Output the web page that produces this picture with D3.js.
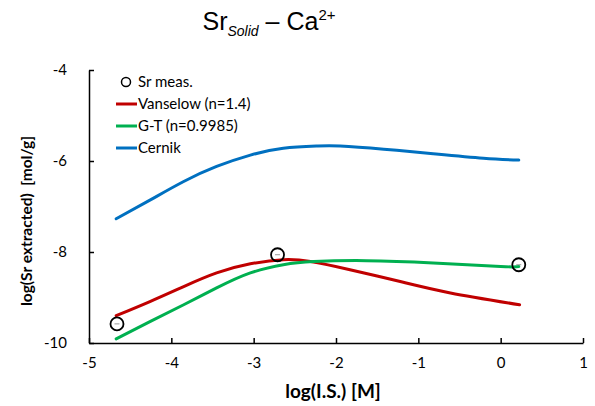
<!DOCTYPE html>
<html>
<head>
<meta charset="utf-8">
<script src="https://cdn.jsdelivr.net/npm/d3@7"></script>
<style>
  body { margin: 0; background: #fff; overflow: hidden; }
  svg { display: block; }
</style>
</head>
<body>
<svg id="chart"></svg>
<script>
const w = 595;
const h = 406;

// measured points
const measX = [-4.66, -2.71, 0.22];
const measY = [-9.58, -8.06, -8.28];

// model curves
const vanselowX = [-4.67, -4.26, -3.85, -3.45, -3.04, -2.64, -2.31, -1.83, -1.22, -0.61, 0.23];
const vanselowY = [-9.40, -9.09, -8.76, -8.46, -8.26, -8.17, -8.21, -8.39, -8.65, -8.90, -9.16];
const gtX = [-4.67, -4.26, -3.85, -3.45, -3.04, -2.64, -2.27, -1.63, -0.82, 0.0, 0.22];
const gtY = [-9.91, -9.53, -9.16, -8.79, -8.46, -8.28, -8.21, -8.19, -8.24, -8.32, -8.32];
const cernikX = [-4.67, -4.26, -3.85, -3.45, -3.04, -2.64, -2.23, -1.95, -1.42, -0.82, -0.21, 0.22];
const cernikY = [-7.27, -6.86, -6.45, -6.12, -5.87, -5.72, -5.67, -5.67, -5.74, -5.84, -5.94, -5.98];

const xTicks = [-5, -4, -3, -2, -1, 0, 1];
const yTicks = [-10, -8, -6, -4];

const series = [
  {name: 'Vanselow (n=1.4)', xs: vanselowX, ys: vanselowY, color: '#C00000'},
  {name: 'G-T (n=0.9985)', xs: gtX, ys: gtY, color: '#00B050'},
  {name: 'Cernik', xs: cernikX, ys: cernikY, color: '#0070C0'}
];

const margin = {top: 70, right: 12, bottom: 63, left: 89};
const innerWidth = w - margin.left - margin.right;
const innerHeight = h - margin.top - margin.bottom;

const svg = d3.select('#chart')
    .attr('width', w)
    .attr('height', h)
    .attr('font-family', 'Lato, sans-serif');

const g = svg.append('g')
    .attr('transform', `translate(${margin.left}, ${margin.top})`);

const xScale = d3.scaleLinear().domain([-5, 1]).range([0, innerWidth]);
const yScale = d3.scaleLinear().domain([-10, -4]).range([innerHeight, 0]);

const fmt = d => String(d);

// axes, ticks pointing inward
const xAxisG = g.append('g')
    .attr('transform', `translate(0,${innerHeight})`)
    .call(d3.axisBottom(xScale).tickValues(xTicks).tickFormat(fmt).tickSizeInner(-5).tickSizeOuter(0).tickPadding(14));
const yAxisG = g.append('g')
    .call(d3.axisLeft(yScale).tickValues(yTicks).tickFormat(fmt).tickSizeInner(-5).tickSizeOuter(0).tickPadding(22));

[xAxisG, yAxisG].forEach(a => {
  a.attr('font-family', 'Lato, sans-serif').attr('font-size', 15);
  a.select('.domain').attr('stroke', '#000').attr('stroke-width', 1.5);
  a.selectAll('.tick line').attr('stroke', '#000').attr('stroke-width', 1.5);
  a.selectAll('.tick text').attr('fill', '#000');
});

// axis titles
svg.append('text')
    .attr('x', margin.left + innerWidth / 2 - 3)
    .attr('y', 398)
    .attr('text-anchor', 'middle')
    .attr('font-size', 19)
    .attr('font-weight', 'bold')
    .text('log(I.S.) [M]');

svg.append('text')
    .attr('transform', 'translate(32,221) rotate(-90)')
    .attr('text-anchor', 'middle')
    .attr('font-size', 15.5)
    .attr('font-weight', 'bold')
    .text('log(Sr extracted)\u00a0\u00a0[mol/g]');

// title
const title = svg.append('text')
    .attr('x', 269)
    .attr('y', 30)
    .attr('text-anchor', 'middle')
    .attr('font-family', '"Liberation Sans", Arial, sans-serif')
    .attr('font-size', 25);
title.append('tspan').text('Sr');
title.append('tspan').attr('dy', 6).attr('font-size', 14).attr('font-style', 'italic').text('Solid');
title.append('tspan').attr('dy', -6).text(' \u2013 Ca');
title.append('tspan').attr('dy', -10).attr('font-size', 15).text('2+');

// curves
const line = d3.line()
    .x(d => xScale(d[0]))
    .y(d => yScale(d[1]))
    .curve(d3.curveNatural);

series.forEach(s => {
  g.append('path')
      .datum(s.xs.map((x, i) => [x, s.ys[i]]))
      .attr('d', line)
      .attr('fill', 'none')
      .attr('stroke', s.color)
      .attr('stroke-width', 3)
      .attr('stroke-linecap', 'round');
});

// measured points
const meas = measX.map((x, i) => [x, measY[i]]);
g.selectAll('.err').data(meas)
  .enter().append('line')
    .attr('class', 'err')
    .attr('x1', d => xScale(d[0]) - 2.5)
    .attr('x2', d => xScale(d[0]) + 2.5)
    .attr('y1', d => yScale(d[1]))
    .attr('y2', d => yScale(d[1]))
    .attr('stroke', '#999')
    .attr('stroke-width', 1);
g.selectAll('.point').data(meas)
  .enter().append('circle')
    .attr('class', 'point')
    .attr('cx', d => xScale(d[0]))
    .attr('cy', d => yScale(d[1]))
    .attr('r', 6.5)
    .attr('fill', 'none')
    .attr('stroke', '#000')
    .attr('stroke-width', 1.8);

// legend
const lg = svg.append('g').attr('transform', 'translate(116, 82)');
lg.append('circle')
    .attr('cx', 10).attr('cy', 0).attr('r', 4.5)
    .attr('fill', 'none').attr('stroke', '#000').attr('stroke-width', 1.5);
lg.append('text')
    .attr('x', 22).attr('y', 5)
    .attr('font-size', 15)
    .text('Sr meas.');
series.forEach((s, i) => {
  const yy = 22 * (i + 1);
  lg.append('line')
      .attr('x1', 0).attr('x2', 21)
      .attr('y1', yy).attr('y2', yy)
      .attr('stroke', s.color).attr('stroke-width', 3);
  lg.append('text')
      .attr('x', 22).attr('y', yy + 5)
      .attr('font-size', 15)
      .text(s.name);
});
</script>
</body>
</html>
